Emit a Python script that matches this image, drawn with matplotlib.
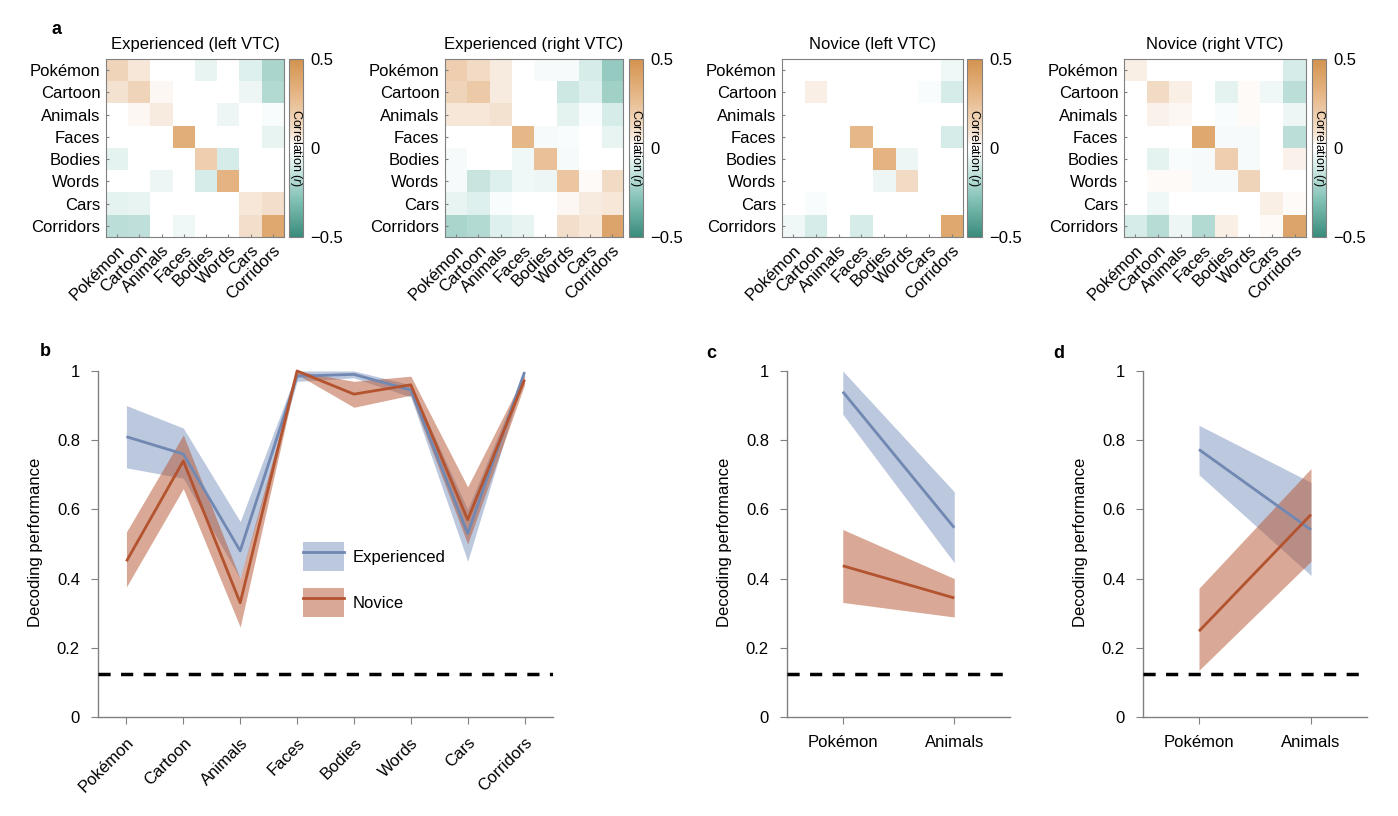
import numpy as np
import matplotlib
matplotlib.use("Agg")
import matplotlib.pyplot as plt
from matplotlib.colors import LinearSegmentedColormap
from matplotlib.patches import Patch
from matplotlib.lines import Line2D

plt.rcParams["font.family"] = ["Liberation Sans", "DejaVu Sans"]
plt.rcParams["mathtext.fontset"] = "custom"
plt.rcParams["mathtext.it"] = "Liberation Sans:italic"

# -----------------------------
# Data
# -----------------------------
CATEGORIES = ["Pokémon", "Cartoon", "Animals", "Faces", "Bodies", "Words", "Cars", "Corridors"]

HEAT_TITLES = ["Experienced (left VTC)", "Experienced (right VTC)",
               "Novice (left VTC)", "Novice (right VTC)"]

exp_left = [
    [0.15, 0.07, 0.00, 0.00, -0.06, 0.00, -0.08, -0.20],
    [0.08, 0.15, 0.03, 0.00, 0.00, 0.00, -0.05, -0.18],
    [0.00, 0.03, 0.06, 0.00, 0.00, -0.05, 0.00, -0.02],
    [0.00, 0.00, 0.00, 0.35, 0.00, 0.00, 0.00, -0.06],
    [-0.07, 0.00, 0.00, 0.00, 0.18, -0.10, 0.00, 0.00],
    [0.00, 0.00, -0.05, 0.00, -0.10, 0.32, 0.00, 0.00],
    [-0.07, -0.06, 0.00, 0.00, 0.00, 0.00, 0.07, 0.10],
    [-0.16, -0.15, -0.01, -0.04, 0.00, 0.00, 0.10, 0.38],
]
exp_right = [
    [0.18, 0.12, 0.06, 0.00, -0.03, -0.03, -0.10, -0.25],
    [0.15, 0.20, 0.06, 0.00, 0.00, -0.12, -0.08, -0.22],
    [0.07, 0.07, 0.08, 0.00, 0.00, -0.07, -0.02, -0.10],
    [0.00, 0.00, 0.00, 0.30, -0.03, -0.02, 0.00, -0.06],
    [-0.03, 0.00, 0.00, -0.04, 0.25, -0.03, 0.00, 0.00],
    [-0.03, -0.13, -0.08, -0.04, -0.05, 0.22, 0.02, 0.12],
    [-0.06, -0.08, -0.02, 0.00, 0.00, 0.03, 0.06, 0.07],
    [-0.20, -0.18, -0.08, -0.06, 0.00, 0.10, 0.07, 0.40],
]
nov_left = [
    [0.00, 0.00, 0.00, 0.00, 0.00, 0.00, 0.00, -0.04],
    [0.00, 0.05, 0.00, 0.00, 0.00, 0.00, -0.02, -0.10],
    [0.00, 0.00, 0.00, 0.00, 0.00, 0.00, 0.00, 0.00],
    [0.00, 0.00, 0.00, 0.30, 0.00, 0.00, 0.00, -0.10],
    [0.00, 0.00, 0.00, 0.00, 0.32, -0.05, 0.00, 0.00],
    [0.00, 0.00, 0.00, 0.00, -0.05, 0.12, 0.00, 0.00],
    [0.00, -0.02, 0.00, 0.00, 0.00, 0.00, 0.01, 0.01],
    [-0.04, -0.10, 0.00, -0.10, 0.00, 0.00, 0.01, 0.38],
]
nov_right = [
    [0.05, 0.00, 0.00, 0.00, 0.00, 0.00, 0.00, -0.10],
    [0.00, 0.12, 0.05, 0.00, -0.07, 0.02, -0.04, -0.16],
    [0.00, 0.04, 0.03, 0.00, -0.02, 0.02, 0.00, -0.05],
    [0.00, 0.00, 0.00, 0.38, -0.03, -0.03, 0.00, -0.16],
    [0.00, -0.07, -0.02, -0.03, 0.18, -0.03, 0.00, 0.04],
    [0.00, 0.02, 0.02, -0.03, -0.03, 0.15, 0.00, 0.00],
    [0.00, -0.04, 0.00, 0.00, 0.00, 0.00, 0.05, 0.02],
    [-0.10, -0.17, -0.05, -0.18, 0.05, 0.00, 0.02, 0.40],
]

# panel b: decoding across all categories
exp_mean = [0.81, 0.76, 0.48, 0.985, 0.99, 0.945, 0.53, 0.997]
exp_low = [0.72, 0.69, 0.40, 0.97, 0.98, 0.925, 0.45, 0.99]
exp_high = [0.90, 0.835, 0.565, 1.0, 1.0, 0.96, 0.60, 1.0]
nov_mean = [0.45, 0.74, 0.33, 1.0, 0.933, 0.96, 0.57, 0.975]
nov_low = [0.376, 0.66, 0.26, 0.99, 0.895, 0.93, 0.50, 0.96]
nov_high = [0.535, 0.815, 0.40, 1.0, 0.97, 0.985, 0.665, 0.99]

# panels c and d
PAIR = ["Pokémon", "Animals"]
c_exp_mean = [0.94, 0.547]
c_exp_low = [0.875, 0.446]
c_exp_high = [1.0, 0.651]
c_nov_mean = [0.437, 0.344]
c_nov_low = [0.331, 0.289]
c_nov_high = [0.542, 0.40]

d_exp_mean = [0.773, 0.541]
d_exp_low = [0.70, 0.409]
d_exp_high = [0.843, 0.678]
d_nov_mean = [0.248, 0.585]
d_nov_low = [0.135, 0.45]
d_nov_high = [0.372, 0.718]

CHANCE = 1 / 8

# -----------------------------
# Styles
# -----------------------------
EXP_LINE = "#7188b2"
EXP_FILL = "#7b93be"
NOV_LINE = "#b3532f"
NOV_FILL = "#b5532e"
FILL_ALPHA = 0.5
AXIS_GRAY = "#808080"
FS = 12

cmap = LinearSegmentedColormap.from_list("corr", [
    (0.0, "#3a8c7c"), (0.2, "#7fbfb3"), (0.4, "#d6ece8"), (0.49, "#ffffff"),
    (0.51, "#ffffff"), (0.58, "#f5e3d2"), (0.8, "#e6b787"), (1.0, "#d4934f"),
])

fig = plt.figure(figsize=(13.98, 8.16), dpi=100)
W, H = 1398.0, 816.0


def px_axes(left, top, right, bottom):
    return fig.add_axes([left / W, 1 - bottom / H, (right - left) / W, (bottom - top) / H])


# -----------------------------
# Panel a: heatmaps
# -----------------------------
heat_boxes = [(106, 284, 289, 303), (445, 623, 629, 643),
              (782, 963, 967, 982), (1124, 1306, 1312, 1326)]
matrices = [exp_left, exp_right, nov_left, nov_right]

for title, mat, (l, r, cl, cr) in zip(HEAT_TITLES, matrices, heat_boxes):
    ax = px_axes(l, 59, r, 237)
    im = ax.imshow(np.array(mat), cmap=cmap, vmin=-0.5, vmax=0.5,
                   aspect="auto", interpolation="nearest")
    ax.set_xticks(range(len(CATEGORIES)))
    ax.set_yticks(range(len(CATEGORIES)))
    ax.set_xticklabels(CATEGORIES, rotation=45, ha="right", rotation_mode="anchor", fontsize=FS)
    ax.set_yticklabels(CATEGORIES, fontsize=FS)
    ax.tick_params(direction="in", length=2.5, color=AXIS_GRAY, pad=4)
    for s in ax.spines.values():
        s.set_color(AXIS_GRAY)
        s.set_linewidth(0.8)
    ax.set_title(title, fontsize=FS, pad=7)

    cax = px_axes(cl, 59, cr, 237)
    cb = fig.colorbar(im, cax=cax, ticks=[-0.5, 0, 0.5])
    cb.ax.set_yticklabels(["\u22120.5", "0", "0.5"], fontsize=FS)
    cb.ax.tick_params(length=0, pad=5)
    cb.outline.set_edgecolor(AXIS_GRAY)
    cb.outline.set_linewidth(0.8)
    cax.text(0.5, 0.5, r"Correlation ($\it{r}$)", rotation=270, ha="center", va="center",
             fontsize=9, transform=cax.transAxes)

fig.text(52 / W, 1 - 30 / H, "a", fontsize=13, fontweight="bold", ha="left", va="center")


# -----------------------------
# Panels b, c, d: decoding performance
# -----------------------------
def decoding_axes(ax, labels, rotate):
    ax.set_xlim(-0.5, len(labels) - 0.5)
    ax.set_ylim(0, 1.01)
    ax.spines["top"].set_visible(False)
    ax.spines["right"].set_visible(False)
    ax.spines["left"].set_bounds(0, 1)
    for s in ["left", "bottom"]:
        ax.spines[s].set_color(AXIS_GRAY)
        ax.spines[s].set_linewidth(1.0)
    ax.set_yticks([0, 0.2, 0.4, 0.6, 0.8, 1])
    ax.set_yticklabels(["0", "0.2", "0.4", "0.6", "0.8", "1"], fontsize=FS)
    ax.set_xticks(range(len(labels)))
    if rotate:
        ax.set_xticklabels(labels, rotation=45, ha="right", rotation_mode="anchor", fontsize=FS)
    else:
        ax.set_xticklabels(labels, fontsize=FS)
    ax.tick_params(length=5, color=AXIS_GRAY, pad=8)
    ax.set_ylabel("Decoding performance", fontsize=FS, labelpad=10)
    ax.axhline(CHANCE, color="black", lw=2.5, linestyle=(0, (3.5, 3)), zorder=5)


def draw_bands(ax, x, e_m, e_lo, e_hi, n_m, n_lo, n_hi):
    ax.fill_between(x, e_lo, e_hi, color=EXP_FILL, alpha=FILL_ALPHA, lw=0)
    ax.fill_between(x, n_lo, n_hi, color=NOV_FILL, alpha=FILL_ALPHA, lw=0)
    ax.plot(x, e_m, color=EXP_LINE, lw=2, solid_capstyle="butt")
    ax.plot(x, n_m, color=NOV_LINE, lw=2, solid_capstyle="butt")


ax_b = px_axes(98, 367.5, 553, 717)
x_all = np.arange(len(CATEGORIES))
draw_bands(ax_b, x_all, exp_mean, exp_low, exp_high, nov_mean, nov_low, nov_high)
decoding_axes(ax_b, CATEGORIES, rotate=True)

handles = [
    (Patch(facecolor=EXP_FILL, alpha=FILL_ALPHA, lw=0), Line2D([], [], color=EXP_LINE, lw=2)),
    (Patch(facecolor=NOV_FILL, alpha=FILL_ALPHA, lw=0), Line2D([], [], color=NOV_LINE, lw=2)),
]
ax_b.legend(handles, ["Experienced", "Novice"], loc="upper left", bbox_to_anchor=(0.45, 0.5),
            frameon=False, fontsize=FS, handlelength=2.5, handleheight=2.3,
            handletextpad=0.5, labelspacing=1.0, borderpad=0, borderaxespad=0)

ax_c = px_axes(787, 367.5, 1010, 717)
x_pair = np.arange(len(PAIR))
draw_bands(ax_c, x_pair, c_exp_mean, c_exp_low, c_exp_high, c_nov_mean, c_nov_low, c_nov_high)
decoding_axes(ax_c, PAIR, rotate=False)

ax_d = px_axes(1143, 367.5, 1367, 717)
draw_bands(ax_d, x_pair, d_exp_mean, d_exp_low, d_exp_high, d_nov_mean, d_nov_low, d_nov_high)
decoding_axes(ax_d, PAIR, rotate=False)

fig.text(45 / W, 1 - 352 / H, "b", fontsize=13, fontweight="bold", ha="center", va="center")
fig.text(711 / W, 1 - 354 / H, "c", fontsize=13, fontweight="bold", ha="center", va="center")
fig.text(1059 / W, 1 - 354 / H, "d", fontsize=13, fontweight="bold", ha="center", va="center")

fig.savefig("out.png", dpi=100)
